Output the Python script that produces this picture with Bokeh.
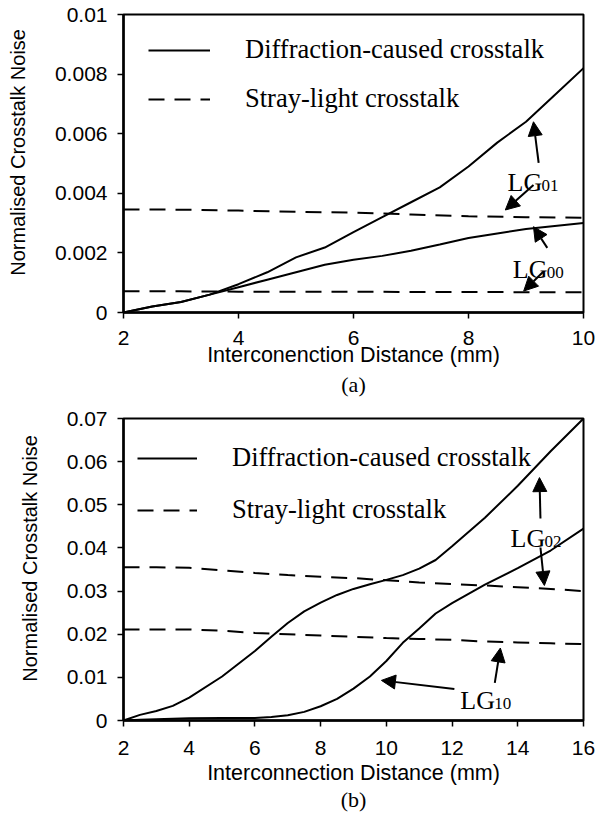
from bokeh.plotting import figure
from bokeh.layouts import column
from bokeh.models import (Legend, LegendItem, Arrow, NormalHead, Label, Title,
                          FixedTicker, Range1d)
from bokeh.embed import file_html
from bokeh.resources import INLINE

# ---------------- data: panel (a) ----------------
a_x_diff = [2, 2.5, 3, 3.5, 4, 4.5, 5, 5.5, 6, 6.5, 7, 7.5, 8, 8.5, 9, 9.5, 10]
a_lg01_diff = [0, 0.0002, 0.00035, 0.0006, 0.00095, 0.00135, 0.00185, 0.00218, 0.0027,
               0.0032, 0.0037, 0.0042, 0.0049, 0.0057, 0.0064, 0.0073, 0.0082]
a_lg00_diff = [0, 0.0002, 0.00035, 0.0006, 0.00085, 0.0011, 0.00135, 0.0016, 0.00177,
               0.0019, 0.00207, 0.00228, 0.0025, 0.00265, 0.0028, 0.0029, 0.0030]
a_x_stray = [2, 3, 4, 5, 6, 7, 8, 9, 10]
a_lg01_stray = [0.00346, 0.00345, 0.00342, 0.00338, 0.00335, 0.00329, 0.00323, 0.0032, 0.00318]
a_lg00_stray = [0.00071, 0.00071, 0.0007, 0.0007, 0.0007, 0.00069, 0.00069, 0.00068, 0.00068]
a_xticks = [2, 4, 6, 8, 10]
a_yticks = [0, 0.002, 0.004, 0.006, 0.008, 0.01]
a_ylabels = ["0", "0.002", "0.004", "0.006", "0.008", "0.01"]

# ---------------- data: panel (b) ----------------
b_x_diff = [2, 2.5, 3, 3.5, 4, 5, 6, 6.5, 7, 7.5, 8, 8.5, 9, 9.5, 10, 10.5, 11, 11.5,
            12, 13, 14, 15, 16]
b_lg02_diff = [0, 0.0013, 0.0022, 0.0034, 0.0053, 0.0102, 0.0161, 0.0194, 0.0226, 0.0253,
               0.0273, 0.0291, 0.0305, 0.0316, 0.0326, 0.0337, 0.0352, 0.0372, 0.0404,
               0.0470, 0.0544, 0.0624, 0.0700]
b_lg10_diff = [0, 0.0002, 0.0003, 0.0004, 0.0005, 0.0006, 0.0006, 0.0008, 0.0012, 0.002,
               0.0033, 0.005, 0.0074, 0.0102, 0.0138, 0.018, 0.0213, 0.0248, 0.0272,
               0.0315, 0.0353, 0.0394, 0.0445]
b_x_stray = [2, 3, 4, 5, 6, 7, 8, 9, 10, 11, 12, 13, 14, 15, 16]
b_lg02_stray = [0.0355, 0.0355, 0.0354, 0.0348, 0.0342, 0.0337, 0.0333, 0.0330, 0.0325,
                0.0320, 0.0316, 0.0313, 0.0309, 0.0305, 0.0300]
b_lg10_stray = [0.0211, 0.0211, 0.0211, 0.0208, 0.0203, 0.0200, 0.0197, 0.0194, 0.0191,
                0.0189, 0.0187, 0.0183, 0.0181, 0.0179, 0.0177]
b_xticks = [2, 4, 6, 8, 10, 12, 14, 16]
b_yticks = [0, 0.01, 0.02, 0.03, 0.04, 0.05, 0.06, 0.07]
b_ylabels = ["0", "0.01", "0.02", "0.03", "0.04", "0.05", "0.06", "0.07"]

legend_labels = ["Diffraction-caused crosstalk", "Stray-light crosstalk"]
ylabel = "Normalised Crosstalk Noise"
a_xlabel = "Interconenction Distance (mm)"
b_xlabel = "Interconnection Distance (mm)"

# annotation arrows (start x, start y, end x, end y)
a_arrows = [(9.22, 0.00502, 9.13, 0.00640), (9.13, 0.00428, 8.64, 0.00344),
            (9.37, 0.00217, 9.13, 0.00288), (9.30, 0.00137, 8.96, 0.00072)]
a_tags = [("LG", "01", 8.68, 0.00437), ("LG", "00", 8.77, 0.00145)]
b_arrows = [(14.69, 0.0468, 14.66, 0.0563), (14.69, 0.0401, 14.81, 0.0313),
            (12.07, 0.0073, 9.85, 0.0093), (13.30, 0.0087, 13.47, 0.0168)]
b_tags = [("LG", "02", 13.78, 0.0422), ("LG", "10", 12.25, 0.0047)]

SANS = "Liberation Sans"
SERIF = "Liberation Serif"
DASH = "16 10"
NB = "\u00a0"


def make_panel(xr, yr, xticks, yticks, ylabels, xlabel, series, arrows, tags,
               caption, height, top, bottom, leg_loc, leg_glyph_w, leg_spacing,
               tick_standoff, title_standoff, cap_standoff):
    p = figure(width=596, height=height, output_backend="svg", toolbar_location=None,
               x_range=Range1d(*xr), y_range=Range1d(*yr),
               min_border_left=123, min_border_right=13,
               min_border_top=top, min_border_bottom=bottom)
    p.xgrid.visible = False
    p.ygrid.visible = False
    p.outline_line_color = "black"
    p.outline_line_width = 2
    p.background_fill_color = "white"
    p.border_fill_color = "white"

    for ax in (p.xaxis[0], p.yaxis[0]):
        ax.axis_line_width = 2.5
        ax.axis_line_color = "black"
        ax.major_tick_out = 6
        ax.major_tick_in = 0
        ax.major_tick_line_width = 1.5
        ax.major_tick_line_color = "black"
        ax.minor_tick_out = 0
        ax.minor_tick_in = 0
        ax.major_label_text_font = SANS
        ax.major_label_text_font_size = "21px"
        ax.major_label_text_color = "black"
        ax.axis_label_text_font = SANS
        ax.axis_label_text_font_style = "normal"
        ax.axis_label_text_color = "black"

    p.xaxis[0].major_label_standoff = tick_standoff
    p.yaxis[0].major_label_standoff = 10
    p.xaxis[0].ticker = FixedTicker(ticks=xticks)
    p.yaxis[0].ticker = FixedTicker(ticks=yticks)
    p.yaxis[0].major_label_overrides = {t: s for t, s in zip(yticks, ylabels)}
    p.xaxis[0].axis_label = xlabel
    p.xaxis[0].axis_label_text_font_size = "21.5px"
    p.xaxis[0].axis_label_standoff = title_standoff
    p.yaxis[0].axis_label = NB * 4 + ylabel
    p.yaxis[0].axis_label_text_font_size = "20px"
    p.yaxis[0].axis_label_standoff = 23

    renderers = []
    for xs, ys, dashed in series:
        r = p.line(xs, ys, line_color="black", line_width=2,
                   line_dash=DASH if dashed else "solid")
        renderers.append(r)

    leg = Legend(items=[LegendItem(label=legend_labels[0], renderers=[renderers[0]]),
                        LegendItem(label=legend_labels[1], renderers=[renderers[2]])],
                 location=leg_loc, orientation="vertical",
                 glyph_width=leg_glyph_w, glyph_height=30, label_height=30,
                 label_standoff=35, spacing=leg_spacing, padding=0, margin=0,
                 label_text_font=SERIF, label_text_font_size="26.5px",
                 label_text_color="black",
                 border_line_alpha=0, background_fill_alpha=0)
    p.add_layout(leg, "center")

    for xs, ys, xe, ye in arrows:
        p.add_layout(Arrow(end=NormalHead(size=14, line_color="black", fill_color="black",
                                          line_width=1),
                           x_start=xs, y_start=ys, x_end=xe, y_end=ye,
                           line_color="black", line_width=2))
    for main, sub, tx, ty in tags:
        p.add_layout(Label(x=tx, y=ty, text=main, text_font=SERIF, text_font_size="26px",
                           text_baseline="alphabetic", text_color="black"))
        p.add_layout(Label(x=tx, y=ty, text=sub, text_font=SERIF, text_font_size="17px",
                           text_baseline="alphabetic", text_color="black",
                           x_offset=34, y_offset=-3))

    p.add_layout(Title(text=caption, align="center", text_font=SERIF,
                       text_font_size="22px", text_font_style="normal",
                       text_color="black", standoff=cap_standoff), "below")
    return p


pa = make_panel((2, 10), (0, 0.01), a_xticks, a_yticks, a_ylabels, a_xlabel,
                [(a_x_diff, a_lg01_diff, False), (a_x_diff, a_lg00_diff, False),
                 (a_x_stray, a_lg01_stray, True), (a_x_stray, a_lg00_stray, True)],
                a_arrows, a_tags, "(a)", 397, 14, 84, (25, 198), 62, 18,
                12, -5, 1)

pb = make_panel((2, 16), (0, 0.07), b_xticks, b_yticks, b_ylabels, b_xlabel,
                [(b_x_diff, b_lg02_diff, False), (b_x_diff, b_lg10_diff, False),
                 (b_x_stray, b_lg02_stray, True), (b_x_stray, b_lg10_stray, True)],
                b_arrows, b_tags, "(b)", 417, 21, 94, (14, 195), 60, 21,
                14, 3, -6)

layout = column(pa, pb, spacing=0)
open("out.html", "w").write(file_html(layout, INLINE))
